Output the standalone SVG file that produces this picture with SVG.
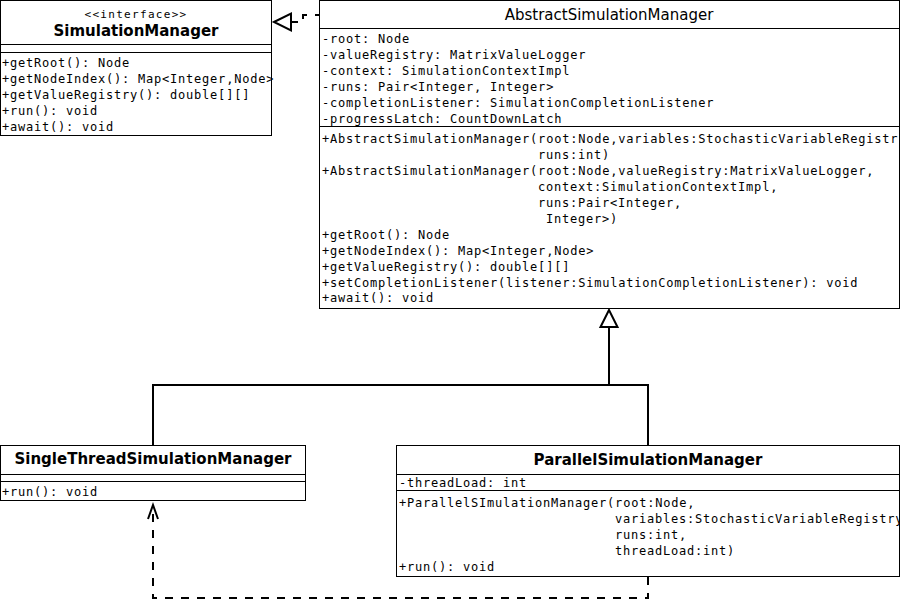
<svg xmlns="http://www.w3.org/2000/svg" width="900" height="615" viewBox="0 0 900 615">
<style>
.box{fill:#fff;stroke:#000;stroke-width:1}
.sep{stroke:#000;stroke-width:1}
.m{font-family:"DejaVu Sans Mono","Liberation Mono",monospace;font-size:12px;letter-spacing:0.78px;fill:#000;white-space:pre}
.st{font-family:"DejaVu Sans Mono","Liberation Mono",monospace;font-size:11px;letter-spacing:1.3px;fill:#000;text-anchor:middle}
.nb{font-family:"DejaVu Sans","Liberation Sans",sans-serif;font-size:15px;font-weight:bold;fill:#000;text-anchor:middle}
.nn{font-family:"DejaVu Sans","Liberation Sans",sans-serif;font-size:15px;fill:#000;text-anchor:middle}
.ln{fill:none;stroke:#000;stroke-width:2}
.dash{fill:none;stroke:#000;stroke-width:2;stroke-dasharray:8,8}
.tri{fill:#fff;stroke:#000;stroke-width:2;stroke-linejoin:miter}
</style>
<defs>
<clipPath id="cA"><rect x="320" y="0" width="579" height="309"/></clipPath>
<clipPath id="cP"><rect x="397" y="446" width="502" height="130"/></clipPath>
</defs>
<rect width="900" height="615" fill="#fff"/>

<g id="connectors">
<path class="ln" d="M153,445 V385 H648 V445 M609,385 V327"/>
<polygon class="tri" points="609,310 600.5,327 617.5,327"/>
<path class="dash" style="stroke-dashoffset:4" d="M319,15 H303 V22 H291"/>
<polygon class="tri" points="274,22 291,13.5 291,30.5"/>
<path class="dash" d="M648,577 V598 H153 V508"/>
<path class="ln" d="M148,519 L153,505 L158,519"/>
</g>

<g id="SimulationManager">
<rect class="box" x="0.5" y="0.5" width="271" height="135"/>
<text class="st" x="136" y="18">&lt;&lt;interface&gt;&gt;</text>
<text class="nb" x="136" y="36">SimulationManager</text>
<line class="sep" x1="0" y1="44.5" x2="272" y2="44.5"/>
<line class="sep" x1="0" y1="52.5" x2="272" y2="52.5"/>
<text class="m" x="2" y="67">+getRoot(): Node</text>
<text class="m" x="2" y="83">+getNodeIndex(): Map&lt;Integer,Node&gt;</text>
<text class="m" x="2" y="99">+getValueRegistry(): double[][]</text>
<text class="m" x="2" y="115">+run(): void</text>
<text class="m" x="2" y="131">+await(): void</text>
</g>

<g id="AbstractSimulationManager">
<rect class="box" x="319.5" y="0.5" width="580" height="308"/>
<text class="nn" x="609" y="20">AbstractSimulationManager</text>
<line class="sep" x1="319" y1="28.5" x2="900" y2="28.5"/>
<g clip-path="url(#cA)">
<text class="m" x="322" y="43">-root: Node</text>
<text class="m" x="322" y="59">-valueRegistry: MatrixValueLogger</text>
<text class="m" x="322" y="75">-context: SimulationContextImpl</text>
<text class="m" x="322" y="91">-runs: Pair&lt;Integer, Integer&gt;</text>
<text class="m" x="322" y="107">-completionListener: SimulationCompletionListener</text>
<text class="m" x="322" y="123">-progressLatch: CountDownLatch</text>
<text class="m" x="322" y="143">+AbstractSimulationManager(root:Node,variables:StochasticVariableRegistr</text>
<text class="m" x="538" y="159">runs:int)</text>
<text class="m" x="322" y="175">+AbstractSimulationManager(root:Node,valueRegistry:MatrixValueLogger,</text>
<text class="m" x="538" y="191">context:SimulationContextImpl,</text>
<text class="m" x="538" y="207">runs:Pair&lt;Integer,</text>
<text class="m" x="538" y="223"> Integer&gt;)</text>
<text class="m" x="322" y="239">+getRoot(): Node</text>
<text class="m" x="322" y="255">+getNodeIndex(): Map&lt;Integer,Node&gt;</text>
<text class="m" x="322" y="271">+getValueRegistry(): double[][]</text>
<text class="m" x="322" y="287">+setCompletionListener(listener:SimulationCompletionListener): void</text>
<text class="m" x="322" y="302">+await(): void</text>
</g>
<line class="sep" x1="319" y1="126.5" x2="900" y2="126.5"/>
</g>

<g id="SingleThreadSimulationManager">
<rect class="box" x="0.5" y="445.5" width="305" height="55"/>
<text class="nb" x="153" y="464">SingleThreadSimulationManager</text>
<line class="sep" x1="0" y1="474.5" x2="306" y2="474.5"/>
<line class="sep" x1="0" y1="481.5" x2="306" y2="481.5"/>
<text class="m" x="2" y="496">+run(): void</text>
</g>

<g id="ParallelSimulationManager">
<rect class="box" x="396.5" y="445.5" width="503" height="131"/>
<text class="nb" x="648" y="465">ParallelSimulationManager</text>
<line class="sep" x1="396" y1="474.5" x2="900" y2="474.5"/>
<line class="sep" x1="396" y1="490.5" x2="900" y2="490.5"/>
<g clip-path="url(#cP)">
<text class="m" x="399" y="487">-threadLoad: int</text>
<text class="m" x="399" y="507">+ParallelSImulationManager(root:Node,</text>
<text class="m" x="615" y="523">variables:StochasticVariableRegistry</text>
<text class="m" x="615" y="539">runs:int,</text>
<text class="m" x="615" y="555">threadLoad:int)</text>
<text class="m" x="399" y="571">+run(): void</text>
</g>
</g>
</svg>
